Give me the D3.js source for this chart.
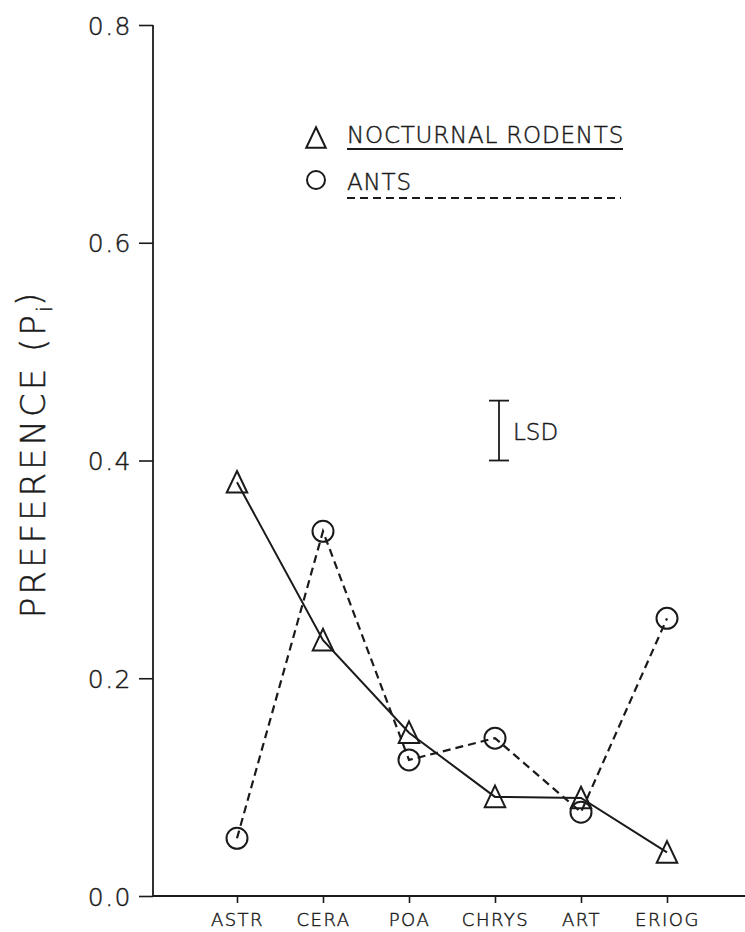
<!DOCTYPE html>
<html>
<head>
<meta charset="utf-8">
<script src="https://cdn.jsdelivr.net/npm/d3@7"></script>
<style>
  html, body { margin: 0; padding: 0; background: #fff; }
  svg text { font-family: "DejaVu Sans", "Open Sans", sans-serif; font-weight: 200; fill: #1a1a1a; stroke: #1a1a1a; stroke-width: 0.45px; }
</style>
</head>
<body>
<svg id="chart" width="745" height="932"></svg>
<script>
const categories = ["ASTR", "CERA", "POA", "CHRYS", "ART", "ERIOG"];
const rodents = [0.38, 0.235, 0.15, 0.091, 0.090, 0.040];
const ants = [0.053, 0.335, 0.125, 0.145, 0.077, 0.255];
const yTicks = [0.0, 0.2, 0.4, 0.6, 0.8];
const lsd = { bottom: 0.400, top: 0.455, category: "CHRYS" };
const legendLabels = ["NOCTURNAL RODENTS", "ANTS"];

const svg = d3.select("#chart");
const ink = "#1a1a1a";
const axisX = 153;

const x = d3.scalePoint().domain(categories).range([237, 667]);
const y = d3.scaleLinear().domain([0, 0.8]).range([896, 25]);

// open triangle symbol (slightly taller than equilateral)
const triType = {
  draw(ctx, size) {
    const w = Math.sqrt(size) / 2;
    ctx.moveTo(0, -w * 1.1);
    ctx.lineTo(w, w * 1.0);
    ctx.lineTo(-w, w * 1.0);
    ctx.closePath();
  }
};
const tri = d3.symbol().type(triType).size(420);

// y axis
const yAxis = d3.axisLeft(y).tickValues(yTicks).tickFormat(d3.format(".1f")).tickSize(14).tickPadding(7);
const gy = svg.append("g").attr("transform", `translate(${axisX},0)`).call(yAxis);
gy.select(".domain").remove();
gy.selectAll(".tick line").attr("stroke", ink).attr("stroke-width", 1.6);
gy.selectAll(".tick text").style("font-size", "25px").style("letter-spacing", "1.5px").attr("dy", "0.36em");
svg.append("line").attr("x1", axisX).attr("x2", axisX).attr("y1", y(0.8)).attr("y2", y(0))
  .attr("stroke", ink).attr("stroke-width", 1.8);

// x axis
const xAxis = d3.axisBottom(x).tickSize(7).tickPadding(10);
const gx = svg.append("g").attr("transform", `translate(0,${y(0)})`).call(xAxis);
gx.select(".domain").remove();
gx.selectAll(".tick line").attr("stroke", ink).attr("stroke-width", 1.6);
gx.selectAll(".tick text").style("font-size", "18px").style("letter-spacing", "1.5px");
svg.append("line").attr("x1", axisX).attr("x2", 745).attr("y1", y(0)).attr("y2", y(0))
  .attr("stroke", ink).attr("stroke-width", 1.8);

// y title
const title = svg.append("text")
  .attr("transform", `translate(45,454) rotate(-90)`)
  .attr("text-anchor", "middle")
  .style("font-size", "34px")
  .style("letter-spacing", "3px");
title.append("tspan").text("PREFERENCE (P");
title.append("tspan").attr("dy", "0.3em").style("font-size", "22px").style("letter-spacing", "0px").text("i");
title.append("tspan").attr("dy", "-0.3em").text(")");

// lines
const line = d3.line().x((d, i) => x(categories[i])).y(d => y(d));
svg.append("path").datum(rodents).attr("d", line)
  .attr("fill", "none").attr("stroke", ink).attr("stroke-width", 2);
svg.append("path").datum(ants).attr("d", line)
  .attr("fill", "none").attr("stroke", ink).attr("stroke-width", 2.2).attr("stroke-dasharray", "8,5");

// markers
svg.append("g").selectAll("path").data(rodents).join("path")
  .attr("d", tri)
  .attr("transform", (d, i) => `translate(${x(categories[i])},${y(d)})`)
  .attr("fill", "none").attr("stroke", ink).attr("stroke-width", 2);
svg.append("g").selectAll("circle").data(ants).join("circle")
  .attr("cx", (d, i) => x(categories[i])).attr("cy", d => y(d)).attr("r", 10.5)
  .attr("fill", "none").attr("stroke", ink).attr("stroke-width", 2);

// LSD bar
const lx = x(lsd.category) + 4;
svg.append("line").attr("x1", lx).attr("x2", lx).attr("y1", y(lsd.top)).attr("y2", y(lsd.bottom))
  .attr("stroke", ink).attr("stroke-width", 1.8);
[lsd.top, lsd.bottom].forEach(v => {
  svg.append("line").attr("x1", lx - 10).attr("x2", lx + 10).attr("y1", y(v)).attr("y2", y(v))
    .attr("stroke", ink).attr("stroke-width", 1.8);
});
svg.append("text").attr("x", lx + 14).attr("y", (y(lsd.top) + y(lsd.bottom)) / 2 + 9)
  .style("font-size", "23px").text("LSD");

// legend
const lg = svg.append("g");
lg.append("path").attr("d", d3.symbol().type(triType).size(380)).attr("transform", "translate(316,138)")
  .attr("fill", "none").attr("stroke", ink).attr("stroke-width", 2);
lg.append("text").attr("x", 347).attr("y", 143).style("font-size", "23px").style("letter-spacing", "0.8px").text(legendLabels[0]);
lg.append("line").attr("x1", 347).attr("x2", 623).attr("y1", 149).attr("y2", 149)
  .attr("stroke", ink).attr("stroke-width", 2);
lg.append("circle").attr("cx", 316).attr("cy", 180).attr("r", 9)
  .attr("fill", "none").attr("stroke", ink).attr("stroke-width", 2);
lg.append("text").attr("x", 347).attr("y", 190).style("font-size", "23px").style("letter-spacing", "0.8px").text(legendLabels[1]);
lg.append("line").attr("x1", 347).attr("x2", 621).attr("y1", 198).attr("y2", 198)
  .attr("stroke", ink).attr("stroke-width", 2).attr("stroke-dasharray", "8,5");
</script>
</body>
</html>
